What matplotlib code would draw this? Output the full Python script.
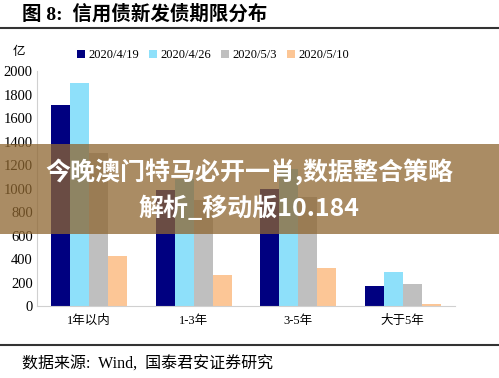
import numpy as np
import matplotlib.pyplot as plt
from matplotlib.lines import Line2D
from matplotlib.patches import Rectangle

plt.rcParams['font.family'] = ['Liberation Serif', 'Noto Sans CJK SC']

categories = ['1年以内', '1-3年', '3-5年', '大于5年']
series = ['2020/4/19', '2020/4/26', '2020/5/3', '2020/5/10']
v_0419 = [1710, 990, 1000, 175]
v_0426 = [1900, 1080, 1170, 290]
v_0503 = [1300, 900, 930, 187]
v_0510 = [425, 262, 327, 18]
colors = ['#000080', '#8ee0fa', '#bfbfbf', '#fcc696']

fig = plt.figure(figsize=(4.99, 3.78), dpi=100)
ax = fig.add_axes([0.074, 0.19, 0.838, 0.622])

x = np.arange(len(categories))
w = 0.182
for i, (vals, c, lab) in enumerate(zip([v_0419, v_0426, v_0503, v_0510], colors, series)):
    ax.bar(x + (i - 1.5) * w, vals, width=w, color=c, label=lab)

ax.set_xlim(-0.5, len(categories) - 0.5)
ax.set_ylim(0, 2000)
ax.set_yticks(range(0, 2001, 200))
ax.set_xticks(x)
ax.set_xticklabels(categories, fontsize=9)
ax.tick_params(axis='y', labelsize=10.5, length=0, pad=3)
ax.tick_params(axis='x', length=0, pad=6)
for s in ['top', 'right']:
    ax.spines[s].set_visible(False)
for s in ['left', 'bottom']:
    ax.spines[s].set_color('#d0d0d0')

ax.legend(ncol=4, frameon=False, loc='lower left', bbox_to_anchor=(0.085, 1.02),
          fontsize=9, handlelength=0.6, handleheight=0.6, handletextpad=0.3,
          columnspacing=0.8, borderaxespad=0)
fig.text(0.025, 0.862, '亿', fontsize=9, ha='left', va='center')

# title and rules
fig.text(0.045, 0.962, '图 8:  信用债新发债期限分布', fontsize=14, fontweight='bold',
         ha='left', va='center')
fig.add_artist(Line2D([0, 1], [0.927, 0.927], color='#333333', lw=1.5))
fig.add_artist(Line2D([0, 1], [0.087, 0.087], color='#333333', lw=1.5))
fig.text(0.045, 0.035, '数据来源:  Wind,  国泰君安证券研究', fontsize=11.5,
         ha='left', va='center')

# overlay banner
fig.add_artist(Rectangle((0, 1 - 234 / 378), 1, 90 / 378, transform=fig.transFigure,
                         color=(142 / 255, 102 / 255, 48 / 255), alpha=0.75, lw=0))
fig.text(0.5, 1 - 172 / 378, '今晚澳门特马必开一肖,数据整合策略', fontsize=18,
         fontweight='bold', color='white', ha='center', va='center',
         family=['Noto Sans CJK SC', 'DejaVu Sans'])
fig.text(0.5, 1 - 208 / 378, '解析_移动版10.184', fontsize=18,
         fontweight='bold', color='white', ha='center', va='center',
         family=['Noto Sans CJK SC', 'DejaVu Sans'])

fig.savefig('out.png', dpi=100)
